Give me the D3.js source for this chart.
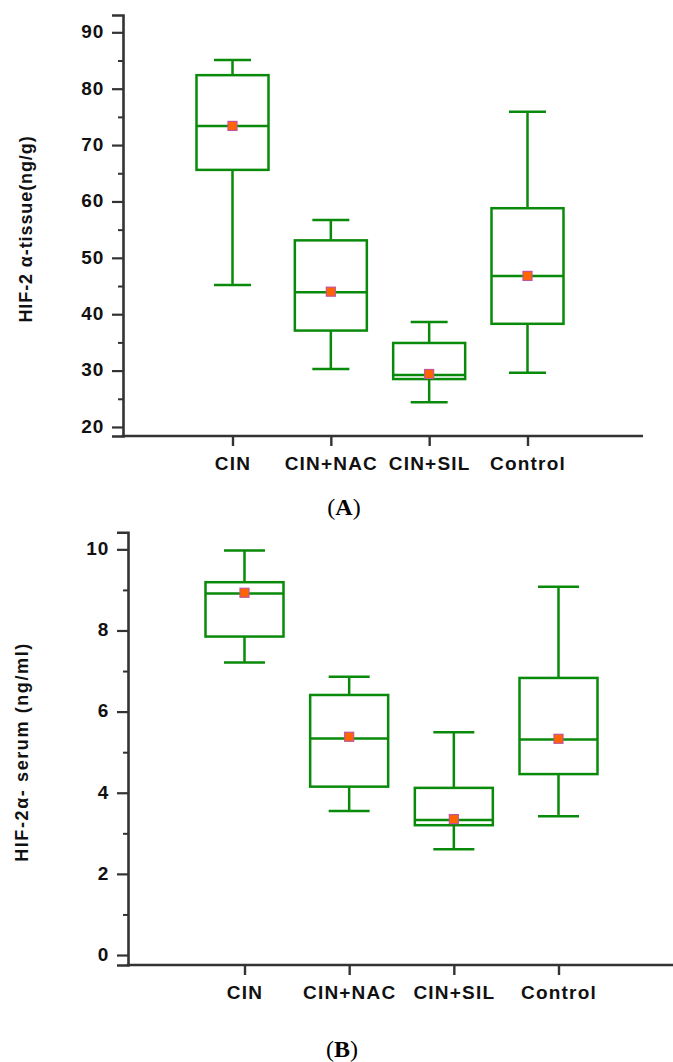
<!DOCTYPE html>
<html>
<head>
<meta charset="utf-8">
<script src="https://cdn.jsdelivr.net/npm/d3@7"></script>
<style>
  html, body { margin: 0; padding: 0; background: #fff; }
  svg { display: block; }
</style>
</head>
<body>
<svg id="chart" width="673" height="1062"></svg>
<script>
// ---------- DATA ----------
const categories = ["CIN", "CIN+NAC", "CIN+SIL", "Control"];

// Panel A: HIF-2 α-tissue (ng/g)
const tissueLow    = [45.2, 30.3, 24.4, 29.6];
const tissueQ1     = [65.6, 37.1, 28.5, 38.3];
const tissueMedian = [73.4, 43.9, 29.2, 46.8];
const tissueQ3     = [82.4, 53.1, 34.9, 58.8];
const tissueHigh   = [85.1, 56.7, 38.6, 75.9];
const tissueMean   = [73.4, 44.0, 29.4, 46.8];
const tissueMajorTicks = [20, 30, 40, 50, 60, 70, 80, 90];
const tissueMinorTicks = [25, 35, 45, 55, 65, 75, 85];

// Panel B: HIF-2α- serum (ng/ml)
const serumLow    = [7.21, 3.55, 2.61, 3.42];
const serumQ1     = [7.85, 4.15, 3.20, 4.46];
const serumMedian = [8.91, 5.34, 3.33, 5.31];
const serumQ3     = [9.19, 6.41, 4.12, 6.83];
const serumHigh   = [9.97, 6.86, 5.49, 9.08];
const serumMean   = [8.93, 5.38, 3.35, 5.33];
const serumMajorTicks = [0, 2, 4, 6, 8, 10];
const serumMinorTicks = [1, 3, 5, 7, 9];

// ---------- STYLE ----------
const GREEN = "#0a8a0a";
const AXIS = "#333333";
const FONT = "'Liberation Sans', Arial, sans-serif";

const svg = d3.select("#chart");

function panel(cfg) {
  const g = svg.append("g");
  const y = d3.scaleLinear().domain(cfg.yDomain).range([cfg.yBottom, cfg.yTop]);
  const x = d3.scalePoint().domain(categories).range(cfg.xCats);

  const rows = categories.map((c, i) => ({
    c, low: cfg.low[i], q1: cfg.q1[i], med: cfg.median[i],
    q3: cfg.q3[i], high: cfg.high[i], mean: cfg.mean[i]
  }));

  // y axis major
  const yAx = g.append("g")
    .attr("transform", `translate(${cfg.xLeft},0)`)
    .call(d3.axisLeft(y).tickValues(cfg.major).tickSizeOuter(0).tickSize(11).tickPadding(8));
  yAx.select(".domain").attr("stroke", AXIS).attr("stroke-width", 2.6);
  yAx.selectAll(".tick line").attr("stroke", AXIS).attr("stroke-width", 2.2);
  yAx.selectAll(".tick text")
    .attr("fill", "#111").attr("font-family", FONT).attr("font-weight", "bold")
    .attr("font-size", 19).style("letter-spacing", "0.8px").attr("dy", "0.28em");

  // y axis minor
  g.append("g")
    .attr("transform", `translate(${cfg.xLeft},0)`)
    .call(d3.axisLeft(y).tickValues(cfg.minor).tickSize(5).tickFormat(""))
    .call(s => s.select(".domain").remove())
    .selectAll(".tick line").attr("stroke", AXIS).attr("stroke-width", 2);

  // x axis
  const xAx = g.append("g")
    .attr("transform", `translate(0,${cfg.yBottom})`)
    .call(d3.axisBottom(x).tickSizeOuter(0).tickSize(10).tickPadding(11));
  xAx.select(".domain").remove();
  xAx.selectAll(".tick line").attr("stroke", AXIS).attr("stroke-width", 2.4);
  xAx.selectAll(".tick text")
    .attr("fill", "#111").attr("font-family", FONT).attr("font-weight", "bold")
    .attr("font-size", 19).style("letter-spacing", "1.2px");
  g.append("line")
    .attr("x1", cfg.xLeft - 1.3).attr("x2", cfg.xRight)
    .attr("y1", cfg.yBottom).attr("y2", cfg.yBottom)
    .attr("stroke", AXIS).attr("stroke-width", 2.6);

  // boxes
  const box = g.selectAll("g.box").data(rows).join("g").attr("class", "box")
    .attr("fill", "none").attr("stroke", GREEN).attr("stroke-width", 2.5);
  box.append("line")
    .attr("x1", d => x(d.c)).attr("x2", d => x(d.c))
    .attr("y1", d => y(d.high)).attr("y2", d => y(d.q3));
  box.append("line")
    .attr("x1", d => x(d.c)).attr("x2", d => x(d.c))
    .attr("y1", d => y(d.q1)).attr("y2", d => y(d.low));
  box.append("line")
    .attr("x1", d => x(d.c) - cfg.capW / 2).attr("x2", d => x(d.c) + cfg.capW / 2)
    .attr("y1", d => y(d.high)).attr("y2", d => y(d.high));
  box.append("line")
    .attr("x1", d => x(d.c) - cfg.capW / 2).attr("x2", d => x(d.c) + cfg.capW / 2)
    .attr("y1", d => y(d.low)).attr("y2", d => y(d.low));
  box.append("rect")
    .attr("x", d => x(d.c) - cfg.boxW / 2).attr("width", cfg.boxW)
    .attr("y", d => y(d.q3)).attr("height", d => y(d.q1) - y(d.q3));
  box.append("line")
    .attr("x1", d => x(d.c) - cfg.boxW / 2).attr("x2", d => x(d.c) + cfg.boxW / 2)
    .attr("y1", d => y(d.med)).attr("y2", d => y(d.med));

  // mean markers
  g.selectAll("rect.mean").data(rows).join("rect").attr("class", "mean")
    .attr("x", d => x(d.c) - 4.5).attr("y", d => y(d.mean) - 4.5)
    .attr("width", 9).attr("height", 9)
    .attr("fill", "#ff6400").attr("stroke", "#c2549a").attr("stroke-width", 1.2);

  // y label
  g.append("text")
    .attr("transform", `translate(${cfg.labelX},${cfg.labelY}) rotate(-90)`)
    .attr("text-anchor", "middle")
    .attr("font-family", FONT).attr("font-weight", "bold")
    .attr("font-size", 18).style("letter-spacing", cfg.labelSpacing)
    .attr("fill", "#111")
    .text(cfg.label);

  // caption
  const cap = svg.append("text")
    .attr("x", cfg.capX).attr("y", cfg.capY)
    .attr("text-anchor", "middle")
    .attr("font-family", "'Liberation Serif', 'DejaVu Serif', serif")
    .attr("font-size", 24).attr("fill", "#000");
  cap.append("tspan").text("(");
  cap.append("tspan").attr("font-weight", "bold").text(cfg.letter);
  cap.append("tspan").text(")");
}

panel({
  yDomain: [18.4, 93.07], yBottom: 436, yTop: 15,
  xLeft: 123, xRight: 643, xCats: [232.5, 527.5],
  major: tissueMajorTicks, minor: tissueMinorTicks,
  low: tissueLow, q1: tissueQ1, median: tissueMedian, q3: tissueQ3,
  high: tissueHigh, mean: tissueMean,
  boxW: 72, capW: 37,
  label: "HIF-2 α-tissue(ng/g)", labelX: 32, labelY: 229, labelSpacing: "0.9px",
  letter: "A", capX: 344, capY: 515
});

panel({
  yDomain: [-0.246, 10.42], yBottom: 965, yTop: 532.3,
  xLeft: 128, xRight: 673, xCats: [244.5, 558.5],
  major: serumMajorTicks, minor: serumMinorTicks,
  low: serumLow, q1: serumQ1, median: serumMedian, q3: serumQ3,
  high: serumHigh, mean: serumMean,
  boxW: 78, capW: 41,
  label: "HIF-2α- serum (ng/ml)", labelX: 28, labelY: 752, labelSpacing: "1.6px",
  letter: "B", capX: 342, capY: 1057
});
</script>
</body>
</html>
